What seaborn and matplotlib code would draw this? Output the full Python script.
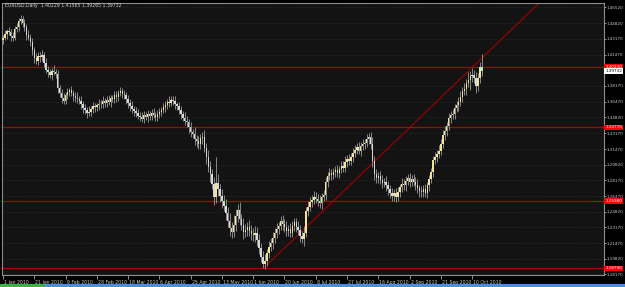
import numpy as np
import pandas as pd
import matplotlib
matplotlib.use("Agg")
import matplotlib.pyplot as plt
import matplotlib.transforms as mtransforms
from matplotlib.patches import Rectangle
import seaborn as sns

# ---------------- data ----------------
symbol_title = "EURUSD,Daily  1.40229 1.41565 1.39265 1.39732"

first_open_pips = 14300
close_pips = [
    14330, 14365, 14400, 14390, 14345, 14330, 14420, 14445, 14505, 14530,
    14490, 14440, 14360, 14330, 14280, 14200, 14110, 14080, 14140, 14120,
    14150, 14060, 13990, 13960, 13930, 13980, 13965, 13940, 13800, 13740,
    13690, 13660, 13720, 13750, 13770, 13740, 13710, 13690, 13680, 13660,
    13620, 13580, 13560, 13530, 13545, 13570, 13600, 13590, 13610, 13630,
    13620, 13660, 13640, 13670, 13650, 13690, 13680, 13720, 13700, 13740,
    13760, 13730, 13720, 13680, 13640, 13600, 13570, 13550, 13530, 13500,
    13490, 13470, 13510, 13490, 13520, 13500, 13530, 13510, 13490, 13520,
    13540, 13560, 13590, 13610, 13650, 13640, 13670, 13660, 13620, 13600,
    13560, 13520, 13480, 13450, 13430, 13380, 13330, 13310, 13250, 13230,
    13200, 13260, 13280, 13160, 13060, 12960, 12880, 12780, 12640, 12790,
    12720, 12650, 12600, 12540, 12470, 12380, 12310, 12270, 12340, 12440,
    12500, 12400, 12340, 12270, 12290, 12320, 12280, 12250, 12230, 12260,
    12180, 12100, 12000, 11930, 11960, 12040, 12110, 12150, 12200, 12260,
    12300, 12330, 12380, 12350, 12320, 12280, 12300, 12260, 12330, 12370,
    12320, 12290, 12220, 12190, 12260, 12490, 12530, 12590, 12610, 12640,
    12620, 12600, 12570, 12640, 12660, 12800, 12860, 12890, 12870, 12900,
    12920, 12890, 12930, 12970, 12950, 13010, 13040, 13020, 13060, 13110,
    13140, 13170, 13130, 13180, 13200, 13210, 13250, 13270, 13200, 13020,
    12880, 12840, 12860, 12820, 12790, 12800, 12760, 12720, 12680, 12650,
    12680, 12640, 12690, 12740, 12780, 12760, 12810, 12840, 12800, 12830,
    12800, 12770, 12730, 12700, 12690, 12720, 12680, 12760, 12830, 12900,
    13030, 13060, 13090, 13130, 13200, 13300, 13340, 13390, 13480, 13510,
    13520, 13580, 13610, 13650, 13700, 13760, 13780, 13850, 13880, 13920,
    13930, 13900, 13820, 13900, 14023, 13973,
]
upper_wick_pips = [
    30, 45, 25, 40, 35, 50, 30, 45, 35, 40,
    25, 40, 30, 55, 35, 45, 30, 60, 35, 40,
    45, 30, 50, 35, 40, 30, 55, 35, 45, 30,
    40, 55, 35, 45, 30, 50, 35, 40, 60, 30,
    45, 35, 40, 30, 55, 35, 45, 40, 30, 50,
    35, 45, 30, 40, 55, 35, 30, 45, 40, 35,
    50, 35, 45, 30, 40, 35, 55, 30, 45, 40,
    35, 50, 40, 30, 45, 35, 40, 55, 30, 45,
    40, 35, 50, 45, 30, 55, 35, 40, 45, 30,
    50, 40, 35, 60, 45, 40, 55, 35, 70, 45,
    60, 50, 45, 70, 55, 80, 60, 50, 75, 270,
    90, 60, 70, 55, 80, 65, 90, 60, 110, 75,
    60, 80, 55, 70, 65, 50, 75, 60, 55, 70,
    55, 60, 45, 65, 70, 50, 60, 55, 65, 50,
    60, 45, 55, 70, 50, 65, 45, 60, 55, 50,
    45, 60, 50, 55, 65, 40, 70, 50, 45, 60,
    50, 45, 60, 40, 55, 50, 45, 60, 40, 50,
    45, 55, 40, 50, 45, 60, 40, 55, 50, 45,
    50, 40, 55, 45, 50, 40, 55, 45, 60, 70,
    55, 60, 45, 50, 55, 40, 60, 45, 50, 55,
    45, 55, 50, 40, 55, 45, 50, 40, 55, 45,
    50, 45, 55, 40, 50, 45, 60, 40, 45, 50,
    40, 55, 45, 60, 50, 45, 55, 40, 50, 45,
    55, 40, 50, 45, 60, 50, 70, 45, 90, 60,
    80, 60, 70, 55, 50, 134,
]
lower_wick_pips = [
    40, 30, 45, 35, 50, 40, 30, 35, 40, 30,
    45, 35, 50, 30, 40, 55, 45, 35, 40, 50,
    35, 45, 40, 50, 30, 45, 35, 40, 55, 45,
    50, 40, 35, 45, 40, 35, 50, 45, 40, 35,
    45, 50, 40, 55, 35, 45, 40, 50, 35, 45,
    40, 35, 50, 45, 40, 55, 35, 45, 50, 40,
    35, 45, 40, 50, 55, 45, 40, 50, 45, 35,
    50, 40, 45, 35, 55, 45, 40, 35, 50, 40,
    45, 40, 35, 50, 40, 45, 35, 50, 45, 40,
    45, 55, 40, 50, 45, 60, 50, 45, 55, 60,
    50, 55, 60, 45, 70, 55, 80, 60, 90, 70,
    70, 60, 80, 55, 75, 60, 85, 70, 60, 65,
    70, 60, 55, 80, 60, 65, 55, 70, 60, 65,
    60, 70, 55, 50, 60, 50, 55, 45, 60, 50,
    55, 50, 45, 60, 50, 55, 60, 45, 50, 55,
    50, 55, 60, 45, 70, 50, 55, 45, 60, 50,
    45, 55, 50, 60, 45, 50, 55, 45, 50, 40,
    50, 45, 55, 40, 50, 45, 55, 40, 45, 50,
    45, 50, 40, 55, 45, 50, 40, 45, 55, 60,
    60, 50, 55, 45, 60, 50, 55, 60, 50, 55,
    50, 60, 45, 55, 50, 45, 55, 50, 60, 45,
    50, 55, 45, 60, 50, 55, 45, 50, 55, 45,
    50, 45, 55, 40, 50, 45, 55, 50, 45, 55,
    45, 50, 40, 55, 45, 50, 40, 55, 45, 110,
    60, 50, 80, 55, 50, 46,
]

date_labels = ["1 Jan 2010", "21 Jan 2010", "9 Feb 2010", "28 Feb 2010",
               "18 Mar 2010", "6 Apr 2010", "25 Apr 2010", "13 May 2010",
               "1 Jun 2010", "20 Jun 2010", "8 Jul 2010", "27 Jul 2010",
               "16 Aug 2010", "2 Sep 2010", "21 Sep 2010", "10 Oct 2010"]
date_label_bars = [0, 16, 32, 48, 64, 80, 96, 112, 128, 144, 160, 176,
                   192, 208, 224, 240]

price_ticks = [1.46520, 1.44820, 1.43170, 1.41470, 1.38170, 1.36470, 1.34820,
               1.33170, 1.31470, 1.29820, 1.28170, 1.26470, 1.24820, 1.23170,
               1.21470, 1.19820, 1.18170]

hline_prices = [1.40230, 1.33770, 1.25980, 1.18790]
hline_labels = ["1.40230", "1.33770", "1.25980", "1.18790"]
bid_price = 1.39732
bid_label = "1.39732"

trend_bars = [133, 285]
trend_prices = [1.1876, 1.4913]

# ---------------- build table ----------------
close = np.array(close_pips) / 1e4
opn = np.r_[first_open_pips / 1e4, close[:-1]]
hi = np.maximum(opn, close) + np.array(upper_wick_pips) / 1e4
lo = np.minimum(opn, close) - np.array(lower_wick_pips) / 1e4
df = pd.DataFrame({"bar": np.arange(len(close)), "open": opn, "close": close,
                   "high": hi, "low": lo})
df["bull"] = df["close"] > df["open"]
df["body_lo"] = np.minimum(df["open"], df["close"])
df["body_h"] = np.maximum((df["close"] - df["open"]).abs(), 0.00025)

# ---------------- style ----------------
sns.set_theme(style="dark")
plt.rcParams["font.family"] = ["DejaVu Sans"]
FS = 3.3
FSY = 3.0

W, H = 625, 287
fig = plt.figure(figsize=(W / 100, H / 100), dpi=100, facecolor="black")
ax = fig.add_axes([2 / W, (H - 275) / H, (604 - 2) / W, (275 - 2.7) / H])
ax.set_facecolor("#131313")

ax.set_xlim(-0.5, -0.5 + 602 / 1.955)
ax.set_ylim(1.18096, 1.47008)

for p in price_ticks:
    ax.axhline(p, color="#383838", lw=0.5, ls=(0, (1, 2)), zorder=0)

# red horizontal lines
for p in hline_prices:
    ax.axhline(p, color="#b00000", lw=0.9, zorder=1)

# trend line
sns.lineplot(x=trend_bars, y=trend_prices, ax=ax, color="#a00000", lw=0.8,
             zorder=1, legend=False)

# candles
ax.vlines(df["bar"], df["low"], df["high"], color="#9c9c9c", lw=0.6, zorder=2)
colors = np.where(df["bull"], "#f2e29a", "#d8d8d8")
ax.bar(df["bar"], df["body_h"], bottom=df["body_lo"], width=0.7,
       color=colors, edgecolor="none", zorder=3)

# spines
for s in ax.spines.values():
    s.set_color("#8c8c8c")
    s.set_linewidth(0.8)
    s.set_visible(True)

# y axis on the right
ax.yaxis.tick_right()
ax.set_yticks(price_ticks)
ax.set_yticklabels([f"{p:.5f}" for p in price_ticks])
ax.tick_params(axis="y", colors="#c8c8c8", labelsize=FSY, length=1.5,
               width=0.5, pad=0.6, direction="out", right=True, left=False)

# x axis
ax.set_xticks(date_label_bars)
ax.set_xticklabels(date_labels)
ax.tick_params(axis="x", colors="#c8c8c8", labelsize=FS, length=3,
               width=0.5, pad=0.6, direction="out", bottom=True)
offset = mtransforms.ScaledTranslation(1.0 / 100, 0, fig.dpi_scale_trans)
for lab in ax.get_xticklabels():
    lab.set_horizontalalignment("left")
    lab.set_transform(lab.get_transform() + offset)
ax.grid(False)
ax.set_xlabel("")
ax.set_ylabel("")

# price boxes on the right
trans = mtransforms.blended_transform_factory(ax.transAxes, ax.transData)
for p, t in zip(hline_prices, hline_labels):
    ax.text(1.002, p, t, transform=trans, fontsize=FSY, color="white",
            va="center", ha="left", clip_on=False, zorder=5,
            bbox=dict(boxstyle="square,pad=0.2", fc="#ff0000", ec="none"))
ax.text(1.002, bid_price, bid_label, transform=trans, fontsize=FSY,
        color="black", va="center", ha="left", clip_on=False, zorder=5,
        bbox=dict(boxstyle="square,pad=0.2", fc="white", ec="none"))

# title
fig.text(5 / W, 1 - 6 / H, symbol_title, fontsize=FS, color="#d0d0d0",
         va="center", ha="left")

# bottom tab strip
fig.patches.append(Rectangle((0, 0), 45 / W, 3 / H, transform=fig.transFigure,
                             fc="#3cb043", ec="none"))
fig.patches.append(Rectangle((45 / W, 0), 1 - 45 / W, 3 / H,
                             transform=fig.transFigure, fc="#4a8fd9", ec="none"))

fig.savefig("out.png", dpi=100, facecolor="black")
